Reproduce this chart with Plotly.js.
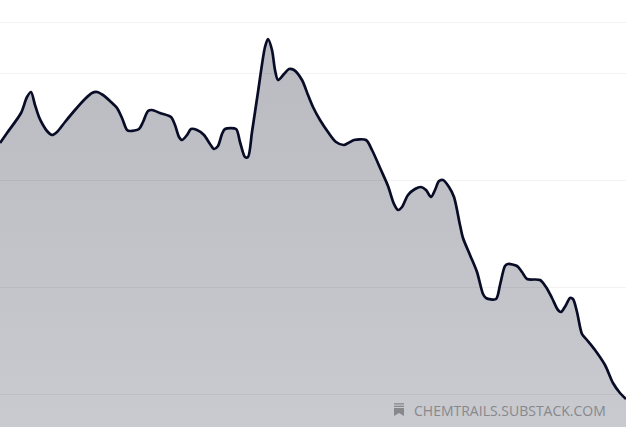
<!DOCTYPE html>
<html><head><meta charset="utf-8">
<script src="https://cdn.plot.ly/plotly-3.0.1.min.js"></script>
<style>html,body{margin:0;padding:0;background:#fff;overflow:hidden}#c{width:626px;height:427px}</style>
</head><body><div id="c"></div>
<script>
const positions=[0,7,21,27,31,35,39,43,47,52,57,65,75,85,92,97,103,110,117,122,127,130,139,143,148,152,160,171,175,179,182,187,191,197,204,210,214,218,222,225,236,240,245,248,252,258,265,268,272,275,278,284,289,294,302,308,313,320,328,336,344,350,354,366,372,381,388,394,398,402,408,415,421,426,431,435,439,443,449,454,460,463,470,477,483,486,496,500,505,508,517,522,527,540,546,552,558,561,566,570,573,577,582,587,595,605,613,620,626];
const values=[284,294,314,330,335,322,310,302,296,292,295,305,317,328,334,335,332,326,319,309,297,296,298,305,316,317,314,310,302,290,287,292,298,297,292,283,278,281,293,298,298,285,270,270,295,335,380,388,377,357,347,353,358,357,347,332,320,307,295,285,282,285,287,287,277,257,241,223,217,220,232,238,240,237,230,237,246,247,240,230,202,189,172,155,133,129,128,142,161,163,161,155,148,147,140,129,117,115,122,129,128,115,93,87,77,62,44,34,28];
const gridValues=[32.5,139.5,246.5,353.5,404.5];
const watermark="CHEMTRAILS.SUBSTACK.COM";
const lineColor="#080c26";

const rules=gridValues.map(v=>({type:'line',xref:'paper',x0:0,x1:1,yref:'y',y0:v,y1:v,layer:'above',
  line:{color:'rgba(30,30,40,0.06)',width:1}}));
const icon=[
 {type:'rect',xref:'x',yref:'y',x0:394,x1:404,y0:22.5,y1:23.8,fillcolor:'#87888c',line:{width:0}},
 {type:'rect',xref:'x',yref:'y',x0:394,x1:404,y0:20,y1:21.3,fillcolor:'#87888c',line:{width:0}},
 {type:'path',xref:'x',yref:'y',path:'M394 19 L404 19 L404 11 L399 14 L394 11 Z',fillcolor:'#87888c',line:{width:0}}
];
Plotly.newPlot('c',[{
  type:'scatter',mode:'lines',x:positions,y:values,fill:'tozeroy',
  line:{color:lineColor,width:2.7,shape:'spline',smoothing:0.8},
  fillgradient:{type:'vertical',colorscale:[[0,'rgba(14,20,42,0.225)'],[1,'rgba(14,20,42,0.29)']]},
  hoverinfo:'skip'
}],{
  width:626,height:427,margin:{l:0,r:0,t:0,b:0},paper_bgcolor:'#fff',plot_bgcolor:'#fff',showlegend:false,
  xaxis:{range:[0,626],visible:false,fixedrange:true},
  yaxis:{range:[0,427],visible:false,fixedrange:true},
  shapes:rules.concat(icon),
  annotations:[{xref:'x',yref:'y',x:412,y:17,xanchor:'left',yanchor:'middle',showarrow:false,text:watermark,
    font:{family:'Open Sans',size:14,color:'#87888c'}}]
},{staticPlot:true,displayModeBar:false});
</script></body></html>
